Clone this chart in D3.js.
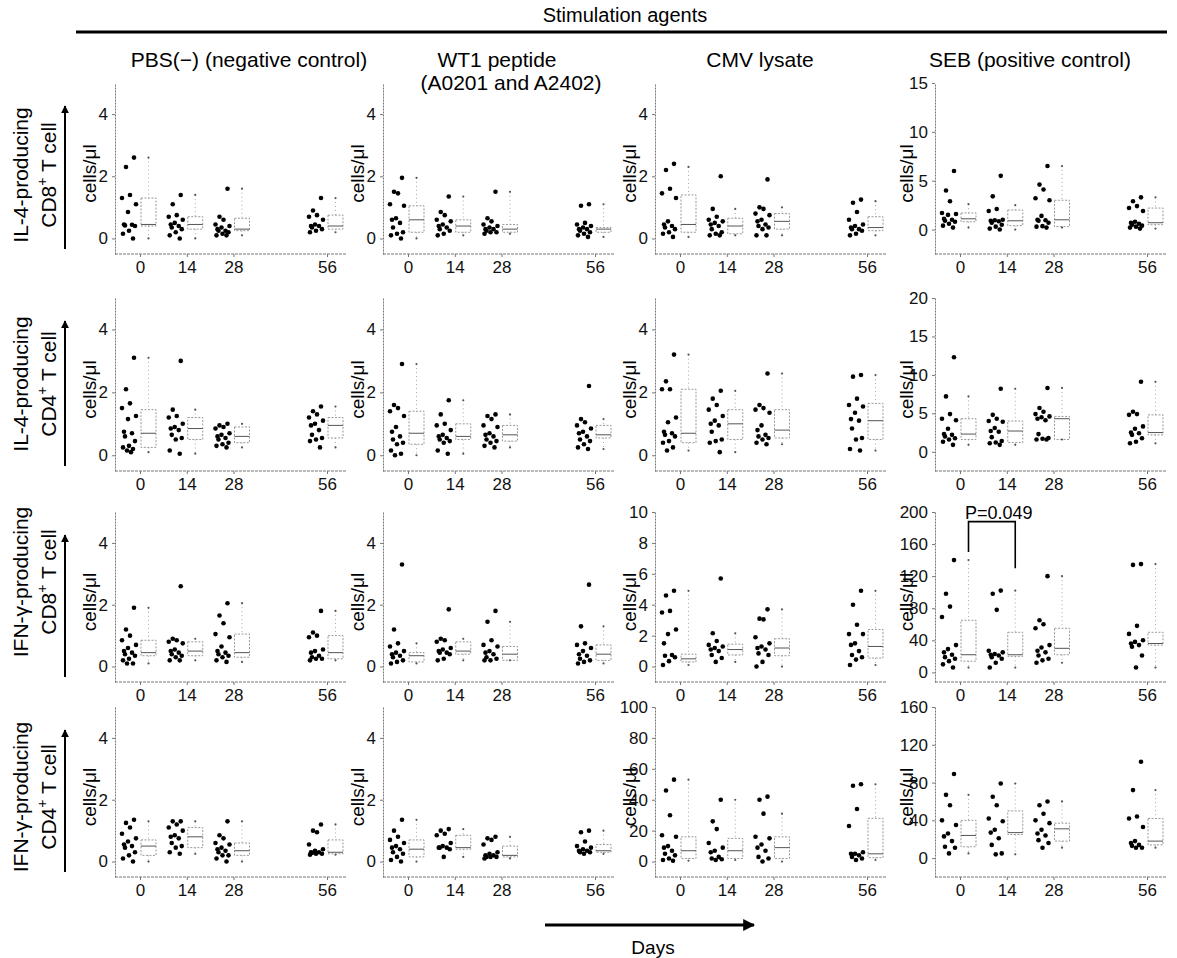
<!DOCTYPE html>
<html><head><meta charset="utf-8">
<script src="https://cdn.jsdelivr.net/npm/d3@7"></script>
<style>
body{margin:0;background:#fff;}
svg{display:block;font-family:Arial,"Liberation Sans",Helvetica,sans-serif;}
</style></head><body>
<svg id="chart" width="1177" height="958"></svg>
<script>
// ---------- labels ----------
const headerLabel = "Stimulation agents";
const agentTitles = [["PBS(−) (negative control)"], ["WT1 peptide", "(A0201 and A2402)"], ["CMV lysate"], ["SEB (positive control)"]];
const rowLabels = [["IL-4-producing", "CD8"], ["IL-4-producing", "CD4"], ["IFN-γ-producing", "CD8"], ["IFN-γ-producing", "CD4"]];
const days = [0, 14, 28, 56];
const yLabel = "cells/μl";
const xLabel = "Days";
const pLabel = "P=0.049";

// ---------- y tick labels / domains ----------
const yTicks = [
  [[0,2,4],[0,2,4],[0,2,4],[0,5,10,15]],
  [[0,2,4],[0,2,4],[0,2,4],[0,5,10,15,20]],
  [[0,2,4],[0,2,4],[0,2,4,6,8,10],[0,40,80,120,160,200]],
  [[0,2,4],[0,2,4],[0,20,40,60,80,100],[0,40,80,120,160]]
];
const yDomains = [
  [[-0.5,5],[-0.5,5],[-0.5,5],[-2.5,15]],
  [[-0.5,5],[-0.5,5],[-0.5,5],[-2.5,20]],
  [[-0.5,5],[-0.5,5],[-1,10],[-12,200]],
  [[-0.5,5],[-0.5,5],[-10,100],[-20,160]]
];

// ---------- data: individual values per day (0,14,28,56) and box stats [min,q1,median,q3,max] ----------
// Row 1: IL-4-producing CD8+ T cells
const il4cd8_PBS = [[2.6,2.3,1.4,1.3,1.1,0.85,0.45,0.44,0.42,0.4,0.25,0.15,0.0],[1.4,1.1,0.75,0.7,0.6,0.5,0.45,0.4,0.35,0.3,0.2,0.1,0.0],[1.6,0.7,0.6,0.45,0.4,0.35,0.3,0.25,0.25,0.2,0.15,0.1,0.1],[1.3,0.9,0.75,0.7,0.6,0.45,0.4,0.4,0.35,0.3,0.25,0.2]];
const il4cd8_PBS_box = [[0,0.4,0.45,1.3,2.6],[0,0.3,0.45,0.7,1.4],[0.1,0.25,0.3,0.65,1.6],[0.2,0.3,0.4,0.75,1.3]];
const il4cd8_WT1 = [[1.95,1.5,1.45,1.1,1.05,0.65,0.6,0.5,0.35,0.2,0.15,0.1,0.0],[1.35,0.85,0.75,0.6,0.55,0.45,0.4,0.35,0.3,0.25,0.15,0.1],[1.5,0.65,0.55,0.45,0.4,0.35,0.3,0.3,0.25,0.2,0.2,0.15],[1.1,1.05,0.5,0.45,0.4,0.35,0.3,0.3,0.25,0.2,0.15,0.1,0.05]];
const il4cd8_WT1_box = [[0,0.2,0.6,1.05,1.95],[0.1,0.2,0.4,0.6,1.35],[0.15,0.2,0.3,0.45,1.5],[0.05,0.2,0.3,0.35,1.1]];
const il4cd8_CMV = [[2.4,2.2,1.6,1.45,1.3,0.55,0.45,0.4,0.35,0.3,0.2,0.15,0.05],[2.0,0.95,0.7,0.6,0.55,0.5,0.45,0.4,0.3,0.2,0.15,0.1,0.1],[1.9,1.0,0.95,0.8,0.75,0.6,0.55,0.45,0.4,0.35,0.3,0.1,0.1],[1.25,1.15,0.85,0.6,0.45,0.4,0.35,0.3,0.3,0.25,0.15,0.1]];
const il4cd8_CMV_box = [[0.05,0.2,0.45,1.4,2.3],[0.1,0.15,0.4,0.65,0.95],[0.1,0.3,0.55,0.8,1.0],[0.1,0.25,0.35,0.7,1.2]];
const il4cd8_SEB = [[6.0,4.0,2.9,1.7,1.6,1.5,1.1,1.0,0.9,0.8,0.6,0.4,0.2],[5.5,3.4,2.1,1.9,1.0,0.95,0.9,0.85,0.7,0.5,0.3,0.1,0.0],[6.5,4.6,4.1,3.2,3.0,1.4,1.0,0.95,0.9,0.7,0.35,0.3,0.2],[3.3,2.9,2.4,2.2,1.9,0.8,0.7,0.6,0.5,0.4,0.3,0.2,0.1]];
const il4cd8_SEB_box = [[0.2,0.8,1.1,1.7,2.6],[0.0,0.4,0.9,2.0,2.5],[0.2,0.3,1.0,3.0,6.5],[0.1,0.5,0.7,2.2,3.3]];
// Row 2: IL-4-producing CD4+ T cells
const il4cd4_PBS = [[3.1,2.1,1.65,1.5,1.25,1.15,0.75,0.7,0.6,0.45,0.3,0.25,0.2,0.15,0.1],[3.0,1.45,1.25,1.2,1.0,0.9,0.85,0.8,0.65,0.55,0.5,0.15,0.05],[1.0,0.95,0.9,0.85,0.7,0.65,0.6,0.55,0.5,0.4,0.35,0.3,0.25],[1.55,1.4,1.3,1.2,1.1,1.0,0.95,0.8,0.65,0.55,0.5,0.45,0.25]];
const il4cd4_PBS_box = [[0.1,0.25,0.7,1.45,3.1],[0.05,0.5,0.85,1.2,1.45],[0.25,0.4,0.6,0.9,1.0],[0.25,0.55,0.95,1.2,1.55]];
const il4cd4_WT1 = [[2.9,1.6,1.5,1.4,1.25,0.9,0.75,0.6,0.5,0.4,0.35,0.15,0.05,0.0],[1.75,1.3,1.0,0.95,0.8,0.65,0.6,0.55,0.5,0.45,0.4,0.15,0.05],[1.3,1.25,1.15,0.95,0.9,0.7,0.65,0.6,0.5,0.45,0.4,0.3,0.25],[2.2,1.15,1.05,0.95,0.85,0.75,0.7,0.6,0.5,0.45,0.35,0.25,0.2]];
const il4cd4_WT1_box = [[0,0.35,0.7,1.4,2.9],[0.05,0.5,0.6,1.0,1.75],[0.25,0.45,0.65,0.95,1.3],[0.2,0.55,0.65,0.95,1.15]];
const il4cd4_CMV = [[3.2,2.35,2.1,2.1,1.2,1.05,0.75,0.7,0.65,0.6,0.45,0.4,0.25,0.15],[2.05,1.8,1.6,1.45,1.25,1.1,1.0,0.95,0.75,0.5,0.45,0.4,0.1],[2.6,1.6,1.5,1.45,1.35,0.95,0.8,0.65,0.6,0.55,0.5,0.4,0.35],[2.55,2.5,1.8,1.6,1.55,1.35,1.15,1.1,0.85,0.55,0.5,0.2,0.15]];
const il4cd4_CMV_box = [[0.15,0.4,0.7,2.1,3.2],[0.1,0.5,1.0,1.45,2.05],[0.35,0.55,0.8,1.45,2.6],[0.15,0.5,1.1,1.65,2.55]];
const il4cd4_SEB = [[12.3,7.2,4.9,4.3,4.1,3.0,2.3,2.2,2.0,1.75,1.6,1.3,0.9],[8.2,4.8,4.3,4.0,3.9,3.1,2.7,2.6,1.9,1.4,1.2,1.1,0.9],[8.3,5.7,5.2,4.9,4.6,4.5,4.3,4.1,2.3,1.8,1.7,1.6,1.6],[9.1,5.2,4.9,4.8,3.3,3.0,2.5,2.4,2.2,1.75,1.3,1.1]];
const il4cd4_SEB_box = [[0.9,1.6,2.3,4.3,7.2],[0.9,1.2,2.7,4.0,8.2],[1.6,1.6,4.3,4.6,8.3],[1.1,2.2,2.5,4.8,9.1]];
// Row 3: IFN-γ-producing CD8+ T cells
const ifncd8_PBS = [[1.9,1.2,1.0,0.85,0.7,0.6,0.5,0.45,0.4,0.35,0.25,0.2,0.1,0.1],[2.6,0.9,0.85,0.8,0.75,0.55,0.5,0.45,0.4,0.35,0.3,0.2,0.2],[2.05,1.65,1.4,1.05,0.95,0.65,0.5,0.45,0.4,0.35,0.3,0.2,0.15],[1.8,1.1,1.0,0.95,0.55,0.5,0.45,0.35,0.3,0.25,0.25,0.2]];
const ifncd8_PBS_box = [[0.1,0.35,0.45,0.85,1.9],[0.2,0.35,0.5,0.8,0.9],[0.15,0.3,0.45,1.05,2.05],[0.2,0.25,0.45,1.0,1.8]];
const ifncd8_WT1 = [[3.3,1.2,0.75,0.65,0.5,0.45,0.4,0.35,0.3,0.2,0.15,0.1],[1.85,0.9,0.85,0.8,0.6,0.55,0.5,0.45,0.45,0.4,0.25,0.2],[1.8,1.45,0.85,0.7,0.65,0.5,0.45,0.4,0.3,0.25,0.2,0.2],[2.65,1.3,0.75,0.7,0.6,0.5,0.4,0.35,0.25,0.2,0.15,0.1]];
const ifncd8_WT1_box = [[0.1,0.15,0.35,0.45,0.75],[0.2,0.4,0.5,0.8,0.9],[0.2,0.2,0.4,0.65,1.45],[0.1,0.2,0.4,0.7,1.3]];
const ifncd8_CMV = [[4.9,4.6,3.6,3.5,2.4,2.1,1.5,0.75,0.7,0.6,0.35,0.1],[5.7,2.15,1.65,1.4,1.3,1.2,1.1,1.0,0.75,0.55,0.3],[3.7,3.1,3.05,1.9,1.5,1.3,1.2,1.1,0.85,0.75,0.3,0.0],[4.9,4.0,2.7,2.1,2.1,1.5,1.4,1.0,0.75,0.6,0.45,0.1]];
const ifncd8_CMV_box = [[0.1,0.3,0.5,0.8,4.9],[0.3,0.75,1.1,1.45,2.15],[0.0,0.7,1.2,1.8,3.7],[0.1,0.55,1.3,2.4,4.9]];
const ifncd8_SEB = [[140,98,82,69,34,29,25,22,19,17,14,10,6],[102,98,78,27,25,23,22,21,19,17,12,6],[120,65,60,55,34,31,27,25,21,17,15,12],[135,134,58,48,40,38,36,34,32,21,6]];
const ifncd8_SEB_box = [[6,14,22,65,140],[6,20,22,50,102],[12,22,30,55,120],[6,34,36,50,135]];
// Row 4: IFN-γ-producing CD4+ T cells
const ifncd4_PBS = [[1.35,1.25,1.1,0.9,0.75,0.65,0.55,0.5,0.45,0.3,0.2,0.1,0.0],[1.3,1.3,1.2,1.1,1.0,0.85,0.8,0.75,0.6,0.5,0.45,0.3,0.25],[1.3,0.85,0.75,0.6,0.55,0.45,0.4,0.35,0.3,0.2,0.2,0.1,0.0],[1.2,1.0,0.95,0.55,0.4,0.35,0.3,0.3,0.28,0.25,0.25,0.22]];
const ifncd4_PBS_box = [[0.0,0.2,0.5,0.7,1.3],[0.25,0.45,0.8,1.1,1.3],[0.0,0.2,0.35,0.6,1.3],[0.22,0.25,0.3,0.7,1.2]];
const ifncd4_WT1 = [[1.35,1.0,0.8,0.7,0.6,0.5,0.45,0.4,0.3,0.25,0.15,0.05,0.0],[1.05,1.0,0.9,0.85,0.6,0.5,0.45,0.45,0.45,0.4,0.15],[0.8,0.75,0.7,0.55,0.3,0.25,0.2,0.2,0.15,0.15,0.15,0.1],[1.0,0.95,0.65,0.5,0.45,0.4,0.35,0.35,0.3,0.3,0.25]];
const ifncd4_WT1_box = [[0.0,0.15,0.4,0.7,1.35],[0.15,0.4,0.45,0.85,1.05],[0.1,0.15,0.2,0.5,0.8],[0.25,0.3,0.35,0.55,1.0]];
const ifncd4_CMV = [[53,46,30,17,16,10,9,7,5,4,2,1,0.5],[40,26,21,12,9,7,6,3,2,1.5,1],[42,40,31,16,15,11,9,7,3,2,0],[50,49,34,23,6,5,5,4,3,2,1]];
const ifncd4_CMV_box = [[0.5,2,7,16,53],[1,2,7,15,40],[0,2,9,16,31],[1,2.5,5,28,50]];
const ifncd4_SEB = [[89,67,56,40,35,26,23,18,12,11,5],[79,65,56,42,39,30,27,21,14,5,4],[60,56,47,40,37,30,26,24,19,16,11],[102,72,44,42,33,18,16,14,13,11,11]];
const ifncd4_SEB_box = [[5,12,24,40,67],[4,25,27,50,79],[11,18,31,37,60],[11,14,18,42,72]];

// significance bracket (SEB, IFN-γ CD8+): from day, to day, top value, left leg end, right leg end
const sigBracket = {row: 2, col: 3, from: 0, to: 14, top: 188, leftEnd: 150, rightEnd: 130};

// ---------- table built from arrays ----------
const panelData = [
  [[il4cd8_PBS, il4cd8_PBS_box],[il4cd8_WT1, il4cd8_WT1_box],[il4cd8_CMV, il4cd8_CMV_box],[il4cd8_SEB, il4cd8_SEB_box]],
  [[il4cd4_PBS, il4cd4_PBS_box],[il4cd4_WT1, il4cd4_WT1_box],[il4cd4_CMV, il4cd4_CMV_box],[il4cd4_SEB, il4cd4_SEB_box]],
  [[ifncd8_PBS, ifncd8_PBS_box],[ifncd8_WT1, ifncd8_WT1_box],[ifncd8_CMV, ifncd8_CMV_box],[ifncd8_SEB, ifncd8_SEB_box]],
  [[ifncd4_PBS, ifncd4_PBS_box],[ifncd4_WT1, ifncd4_WT1_box],[ifncd4_CMV, ifncd4_CMV_box],[ifncd4_SEB, ifncd4_SEB_box]]
];

// ---------- layout ----------
const svg = d3.select("#chart");
const colX0 = [115, 383, 655, 935];
const rowRange = [[83,254],[298,471],[512,682],[707,877]];
const rowLabelCy = [175, 384, 582, 797];
const jit = [3, 11, 7, 15, 1, 9, 13, 5, 12, 2, 8, 14, 4, 10, 6, 0];

const defs = svg.append("defs");
defs.append("marker").attr("id","arr").attr("viewBox","0 0 10 10").attr("refX",9).attr("refY",5)
  .attr("markerWidth",4).attr("markerHeight",4).attr("orient","auto")
  .append("path").attr("d","M0,0L10,5L0,10z").attr("fill","#000");

// header
svg.append("text").attr("x", 625).attr("y", 22).attr("text-anchor","middle").attr("font-size",20).text(headerLabel);
svg.append("line").attr("x1",76).attr("x2",1167).attr("y1",32).attr("y2",32).attr("stroke","#000").attr("stroke-width",3);

// column titles
const titleCx = [[249], [497, 511], [760], [1030]];
agentTitles.forEach((lines, c) => {
  lines.forEach((t, i) => {
    svg.append("text").attr("x", titleCx[c][i]).attr("y", 67 + i*23).attr("text-anchor","middle")
      .attr("font-size",21).text(t);
  });
});

// row labels
rowLabels.forEach((lab, r) => {
  const [top, bot] = rowRange[r];
  const cy = rowLabelCy[r];
  const g = svg.append("g").attr("transform", `translate(0,${cy}) rotate(-90)`);
  g.append("text").attr("x",0).attr("y",28).attr("text-anchor","middle").attr("font-size",21).text(lab[0]);
  const t2 = g.append("text").attr("x",0).attr("y",56).attr("text-anchor","middle").attr("font-size",21);
  t2.append("tspan").text(lab[1]);
  t2.append("tspan").attr("dy",-9).attr("font-size",14).text("+");
  t2.append("tspan").attr("dy",9).text(" T cell");
  svg.append("line").attr("x1",65).attr("x2",65).attr("y1",bot-5).attr("y2",top+23)
    .attr("stroke","#000").attr("stroke-width",2).attr("marker-end","url(#arr)");
});

// panels
panelData.forEach((row, r) => {
  row.forEach(([vals, boxes], c) => {
    const X0 = colX0[c];
    const [top, bot] = rowRange[r];
    const x = d3.scaleLinear().domain([0,56]).range([X0+25, X0+212]);
    const y = d3.scaleLinear().domain(yDomains[r][c]).range([bot, top]);
    const g = svg.append("g");

    // y axis
    const ya = g.append("g").attr("transform",`translate(${X0},0)`)
      .call(d3.axisLeft(y).tickValues(yTicks[r][c]).tickSize(3).tickSizeOuter(0).tickPadding(4).tickFormat(d3.format("d")));
    ya.select(".domain").attr("stroke","#777").attr("stroke-dasharray","2,1");
    ya.selectAll(".tick line").attr("stroke","#777");
    ya.selectAll(".tick text").attr("font-size",17).attr("font-family","Arial,'Liberation Sans',sans-serif").attr("fill","#111");

    // x axis
    g.append("line").attr("x1",X0).attr("x2",X0+231).attr("y1",bot).attr("y2",bot)
      .attr("stroke","#777").attr("stroke-dasharray","3,1");
    const xa = g.append("g").attr("transform",`translate(0,${bot})`)
      .call(d3.axisBottom(x).tickValues(days).tickSize(3).tickSizeOuter(0).tickPadding(4));
    xa.select(".domain").remove();
    xa.selectAll(".tick line").attr("stroke","#777");
    xa.selectAll(".tick text").attr("font-size",17).attr("font-family","Arial,'Liberation Sans',sans-serif").attr("fill","#111");

    // y label
    const ylx = c === 3 ? X0 - 22 : X0 - 19;
    g.append("text").attr("transform",`translate(${ylx},${(top+bot)/2+5}) rotate(-90)`)
      .attr("text-anchor","middle").attr("font-size",19).text(yLabel);

    days.forEach((d, di) => {
      const tx = x(d);
      // dots
      g.selectAll(null).data(vals[di]).join("circle")
        .attr("cx", (v, i) => tx - 3 - jit[i % jit.length])
        .attr("cy", v => y(v)).attr("r", 2.3).attr("fill","#000");
      // box
      const [mn, q1, md, q3, mx] = boxes[di];
      const bx = tx + 1, bw = 15, bc = bx + bw/2;
      g.append("line").attr("x1",bc).attr("x2",bc).attr("y1",y(mx)).attr("y2",y(q3))
        .attr("stroke","#aaa").attr("stroke-dasharray","1,3");
      g.append("line").attr("x1",bc).attr("x2",bc).attr("y1",y(q1)).attr("y2",y(mn))
        .attr("stroke","#aaa").attr("stroke-dasharray","1,3");
      g.append("rect").attr("x",bx).attr("width",bw).attr("y",y(q3)).attr("height",Math.max(0.5,y(q1)-y(q3)))
        .attr("fill","none").attr("stroke","#999").attr("stroke-dasharray","2,1.5");
      g.append("line").attr("x1",bx).attr("x2",bx+bw).attr("y1",y(md)).attr("y2",y(md))
        .attr("stroke","#555").attr("stroke-width",1);
      g.selectAll(null).data([mn, mx]).join("circle")
        .attr("cx", bc).attr("cy", v => y(v)).attr("r", 1.1).attr("fill","#555");
    });

    // significance bracket
    if (r === sigBracket.row && c === sigBracket.col) {
      const xl = x(sigBracket.from) + 8.5, xr = x(sigBracket.to) + 8.5;
      g.append("path")
        .attr("d", `M${xl},${y(sigBracket.leftEnd)}V${y(sigBracket.top)}H${xr}V${y(sigBracket.rightEnd)}`)
        .attr("fill","none").attr("stroke","#000").attr("stroke-width",1.6);
      g.append("text").attr("x", x(0) + 5).attr("y", y(200) + 7).attr("font-size",18).text(pLabel);
    }
  });
});

// Days arrow
svg.append("line").attr("x1",545).attr("x2",754).attr("y1",925).attr("y2",925)
  .attr("stroke","#000").attr("stroke-width",3).attr("marker-end","url(#arr)");
svg.append("text").attr("x",653).attr("y",954).attr("text-anchor","middle").attr("font-size",19).text(xLabel);
</script>
</body></html>
